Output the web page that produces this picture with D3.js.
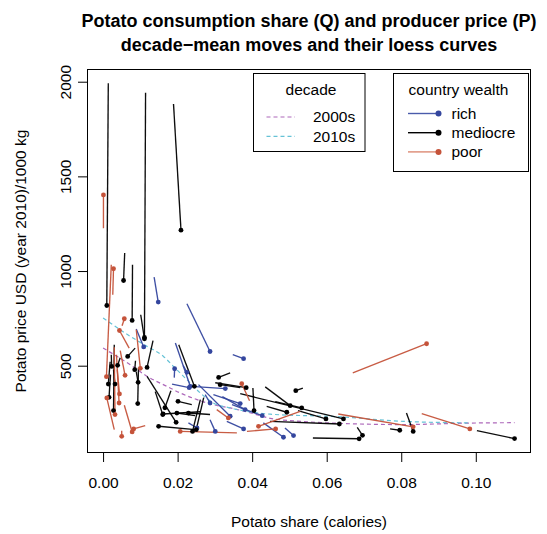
<!DOCTYPE html>
<html>
<head>
<meta charset="utf-8">
<script src="https://cdn.jsdelivr.net/npm/d3@7"></script>
<style>
  body { margin: 0; background: #fff; }
  text { font-family: "Liberation Sans", Arial, Helvetica, sans-serif; fill: #000; }
</style>
</head>
<body>
<svg id="chart" width="547" height="534"></svg>
<script>
// Decade-mean moves per country: [Q 2000s, P 2000s, Q 2010s, P 2010s]
// Q = potato share of calories, P = producer price (USD 2010 / 1000 kg)
const richMoves = [
  [0.0137, 968, 0.0148, 836],
  [0.0225, 827, 0.0287, 575],
  [0.0348, 558, 0.0377, 537],
  [0.0089, 694, 0.0109, 599],
  [0.0194, 620, 0.0234, 391],
  [0.0191, 437, 0.0192, 484],
  [0.0185, 403, 0.0231, 384],
  [0.0237, 391, 0.0328, 379],
  [0.0256, 400, 0.0341, 233],
  [0.0229, 198, 0.0252, 171],
  [0.0287, 215, 0.0301, 153],
  [0.0274, 347, 0.0287, 303],
  [0.0296, 347, 0.0368, 300],
  [0.0320, 337, 0.0381, 268],
  [0.0332, 206, 0.0377, 166],
  [0.0430, 198, 0.0484, 122],
  [0.0488, 171, 0.0511, 131],
  [0.0346, 294, 0.0427, 236],
  [0.0215, 500, 0.0225, 465]
];

const mediocreMoves = [
  [0.0014, 1992, 0.0010, 818],
  [0.0114, 1942, 0.0111, 649],
  [0.0189, 1882, 0.0209, 1216],
  [0.0058, 1095, 0.0055, 950],
  [0.0079, 1033, 0.0078, 739],
  [0.0101, 769, 0.0111, 642],
  [0.0086, 593, 0.0066, 549],
  [0.0134, 632, 0.0118, 491],
  [0.0030, 611, 0.0028, 263],
  [0.0022, 558, 0.0023, 496],
  [0.0019, 521, 0.0014, 403],
  [0.0046, 542, 0.0039, 502],
  [0.0028, 479, 0.0032, 403],
  [0.0020, 453, 0.0016, 333],
  [0.0095, 489, 0.0093, 300],
  [0.0087, 526, 0.0085, 479],
  [0.0089, 468, 0.0094, 412],
  [0.0182, 368, 0.0166, 278],
  [0.0140, 363, 0.0160, 242],
  [0.0118, 444, 0.0196, 201],
  [0.0247, 162, 0.0149, 180],
  [0.0238, 294, 0.0201, 312],
  [0.0261, 257, 0.0161, 245],
  [0.0247, 236, 0.0198, 250],
  [0.0287, 242, 0.0229, 250],
  [0.0261, 321, 0.0240, 153],
  [0.0270, 331, 0.0250, 162],
  [0.0203, 611, 0.0245, 391],
  [0.0341, 462, 0.0310, 438],
  [0.0368, 384, 0.0314, 400],
  [0.0301, 410, 0.0384, 384],
  [0.0402, 382, 0.0405, 263],
  [0.0435, 388, 0.0502, 289],
  [0.0536, 382, 0.0517, 368],
  [0.0368, 352, 0.0645, 219],
  [0.0439, 285, 0.0493, 254],
  [0.0448, 206, 0.0634, 192],
  [0.0462, 310, 0.0533, 277],
  [0.0523, 263, 0.0598, 219],
  [0.0814, 250, 0.0832, 153],
  [0.0770, 166, 0.0796, 159],
  [0.0682, 174, 0.0696, 132],
  [0.0563, 118, 0.0687, 114],
  [0.1003, 157, 0.1104, 115]
];

const poorMoves = [
  [0.0001, 1226, 0.0001, 1402],
  [0.0022, 1033, 0.0009, 442],
  [0.0026, 875, 0.0028, 1012],
  [0.0051, 711, 0.0057, 748],
  [0.0070, 593, 0.0044, 686],
  [0.0030, 597, 0.0032, 242],
  [0.0046, 579, 0.0059, 449],
  [0.0089, 690, 0.0100, 486],
  [0.0030, 162, 0.0010, 330],
  [0.0038, 479, 0.0044, 351],
  [0.0036, 558, 0.0043, 303],
  [0.0057, 291, 0.0078, 150],
  [0.0050, 157, 0.0050, 127],
  [0.0113, 183, 0.0082, 166],
  [0.0359, 145, 0.0207, 153],
  [0.0305, 268, 0.0336, 224],
  [0.0393, 315, 0.0372, 405],
  [0.0529, 259, 0.0417, 180],
  [0.0386, 153, 0.0463, 166],
  [0.0670, 462, 0.0868, 616],
  [0.0631, 245, 0.0832, 177],
  [0.0855, 247, 0.0984, 166]
];

// Loess curves of price on share, one per decade: [Q, P]
const loess2000s = [
  [0.0000, 593], [0.0073, 505], [0.0118, 444], [0.0171, 391], [0.0207, 356],
  [0.0252, 321], [0.0296, 294], [0.0341, 277], [0.0386, 256], [0.0449, 222],
  [0.0540, 205], [0.0627, 196], [0.0805, 189], [0.0984, 197], [0.1104, 199]
];
const loess2010s = [
  [0.0000, 752], [0.0073, 655], [0.0118, 602], [0.0162, 549], [0.0189, 496],
  [0.0225, 426], [0.0261, 356], [0.0296, 303], [0.0341, 277], [0.0386, 259],
  [0.0448, 244], [0.0627, 231], [0.0805, 206], [0.0984, 198]
];

const xTicks = [0, 0.02, 0.04, 0.06, 0.08, 0.10];
const xTickLabels = ["0.00", "0.02", "0.04", "0.06", "0.08", "0.10"];
const yTicks = [500, 1000, 1500, 2000];
const yTickLabels = ["500", "1000", "1500", "2000"];

const wealthGroups = ["rich", "mediocre", "poor"];
const wealthColors = { rich: "#34469e", mediocre: "#000000", poor: "#c5533a" };
const wealthLegendLine = { rich: "#4a5bab", mediocre: "#000000", poor: "#dc8a74" };
const decadeNames = ["2000s", "2010s"];
const decadeColors = { "2000s": "#ad68ba", "2010s": "#66c2d6" };

const titleLines = [
  "Potato consumption share (Q) and producer price (P)",
  "decade\u2212mean moves and their loess curves"
];
const xTitle = "Potato share (calories)";
const yTitle = "Potato price USD (year 2010)/1000 kg";

// ---- layout ----
const plot = { left: 87, right: 531, top: 69, bottom: 453 };
const FONT = 15.5;

const svg = d3.select("#chart");

const movesByGroup = { rich: richMoves, mediocre: mediocreMoves, poor: poorMoves };
const allQ = [], allP = [];
wealthGroups.forEach(g => movesByGroup[g].forEach(m => {
  allQ.push(m[0], m[2]); allP.push(m[1], m[3]);
}));

// data range widened by 4% on each side
function padded(ext) {
  const d = (ext[1] - ext[0]) * 0.04;
  return [ext[0] - d, ext[1] + d];
}
const x = d3.scaleLinear().domain(padded(d3.extent(allQ))).range([plot.left, plot.right]);
const y = d3.scaleLinear().domain(padded(d3.extent(allP))).range([plot.bottom, plot.top]);

svg.append("defs").append("clipPath").attr("id", "plotClip")
  .append("rect")
  .attr("x", plot.left).attr("y", plot.top)
  .attr("width", plot.right - plot.left).attr("height", plot.bottom - plot.top);

const marks = svg.append("g").attr("clip-path", "url(#plotClip)");

// loess curves
const curveLine = d3.line().x(d => x(d[0])).y(d => y(d[1])).curve(d3.curveMonotoneX);
[["2000s", loess2000s], ["2010s", loess2010s]].forEach(([dec, pts]) => {
  marks.append("path")
    .attr("d", curveLine(pts))
    .attr("fill", "none")
    .attr("stroke", decadeColors[dec])
    .attr("stroke-width", 1.2)
    .attr("stroke-dasharray", "4,3");
});

// moves: segment from 2000s mean to 2010s mean, dot at 2010s
wealthGroups.forEach(g => {
  marks.append("g").selectAll("line").data(movesByGroup[g]).join("line")
    .attr("x1", d => x(d[0])).attr("y1", d => y(d[1]))
    .attr("x2", d => x(d[2])).attr("y2", d => y(d[3]))
    .attr("stroke", wealthColors[g])
    .attr("stroke-opacity", 0.95)
    .attr("stroke-width", 1.35);
});
wealthGroups.forEach(g => {
  marks.append("g").selectAll("circle").data(movesByGroup[g]).join("circle")
    .attr("cx", d => x(d[2])).attr("cy", d => y(d[3]))
    .attr("r", 2.4)
    .attr("fill", wealthColors[g]);
});

// frame
svg.append("rect")
  .attr("x", plot.left + 0.5).attr("y", plot.top + 0.5)
  .attr("width", plot.right - plot.left - 1).attr("height", plot.bottom - plot.top - 1)
  .attr("fill", "none").attr("stroke", "#000").attr("stroke-width", 1);

// x axis
const xAxis = d3.axisBottom(x).tickValues(xTicks)
  .tickFormat((d, i) => xTickLabels[i]).tickSize(9).tickPadding(17);
const gx = svg.append("g").attr("transform", `translate(0,${plot.bottom})`).call(xAxis);
gx.select(".domain").remove();
gx.selectAll("line").attr("stroke", "#000");
gx.selectAll("text").attr("font-size", FONT).attr("font-family", null).attr("dy", "0.6em");

// y axis
const yAxis = d3.axisLeft(y).tickValues(yTicks)
  .tickFormat((d, i) => yTickLabels[i]).tickSize(9);
const gy = svg.append("g").attr("transform", `translate(${plot.left},0)`).call(yAxis);
gy.select(".domain").remove();
gy.selectAll("line").attr("stroke", "#000");
gy.selectAll("text")
  .attr("font-size", FONT).attr("font-family", null)
  .attr("text-anchor", "middle")
  .attr("x", null).attr("dy", null)
  .attr("transform", `translate(-16,0) rotate(-90)`);

// titles
svg.selectAll("text.title").data(titleLines).join("text")
  .attr("class", "title")
  .attr("x", (plot.left + plot.right) / 2)
  .attr("y", (d, i) => 27 + i * 23.5)
  .attr("text-anchor", "middle")
  .attr("font-weight", "bold")
  .attr("font-size", 18)
  .text(d => d);

svg.append("text")
  .attr("x", (plot.left + plot.right) / 2).attr("y", 527)
  .attr("text-anchor", "middle").attr("font-size", FONT)
  .text(xTitle);

svg.append("text")
  .attr("transform", `translate(26,${(plot.top + plot.bottom) / 2}) rotate(-90)`)
  .attr("text-anchor", "middle").attr("font-size", FONT)
  .text(yTitle);

// decade legend
const decLeg = svg.append("g");
decLeg.append("rect").attr("x", 253.5).attr("y", 73.5).attr("width", 111.5).attr("height", 78)
  .attr("fill", "#fff").attr("stroke", "#000");
decLeg.append("text").attr("x", 311).attr("y", 95).attr("text-anchor", "middle")
  .attr("font-size", FONT).text("decade");
decadeNames.forEach((dec, i) => {
  const yy = 117 + i * 19.3;
  decLeg.append("line").attr("x1", 266.5).attr("x2", 295).attr("y1", yy).attr("y2", yy)
    .attr("stroke", decadeColors[dec]).attr("stroke-width", 1.2).attr("stroke-dasharray", "4,3");
  decLeg.append("text").attr("x", 313).attr("y", yy + 5.3).attr("font-size", FONT).text(dec);
});

// wealth legend
const wLeg = svg.append("g");
wLeg.append("rect").attr("x", 393.5).attr("y", 73.5).attr("width", 135).attr("height", 98)
  .attr("fill", "#fff").attr("stroke", "#000");
wLeg.append("text").attr("x", 458.5).attr("y", 95).attr("text-anchor", "middle")
  .attr("font-size", FONT).text("country wealth");
wealthGroups.forEach((g, i) => {
  const yy = 113.5 + i * 19.2;
  wLeg.append("line").attr("x1", 408).attr("x2", 438.5).attr("y1", yy).attr("y2", yy)
    .attr("stroke", wealthLegendLine[g]).attr("stroke-width", 1.4);
  wLeg.append("circle").attr("cx", 438.5).attr("cy", yy).attr("r", 3).attr("fill", wealthColors[g]);
  wLeg.append("text").attr("x", 451.5).attr("y", yy + 5.3).attr("font-size", FONT).text(g);
});
</script>
</body>
</html>
